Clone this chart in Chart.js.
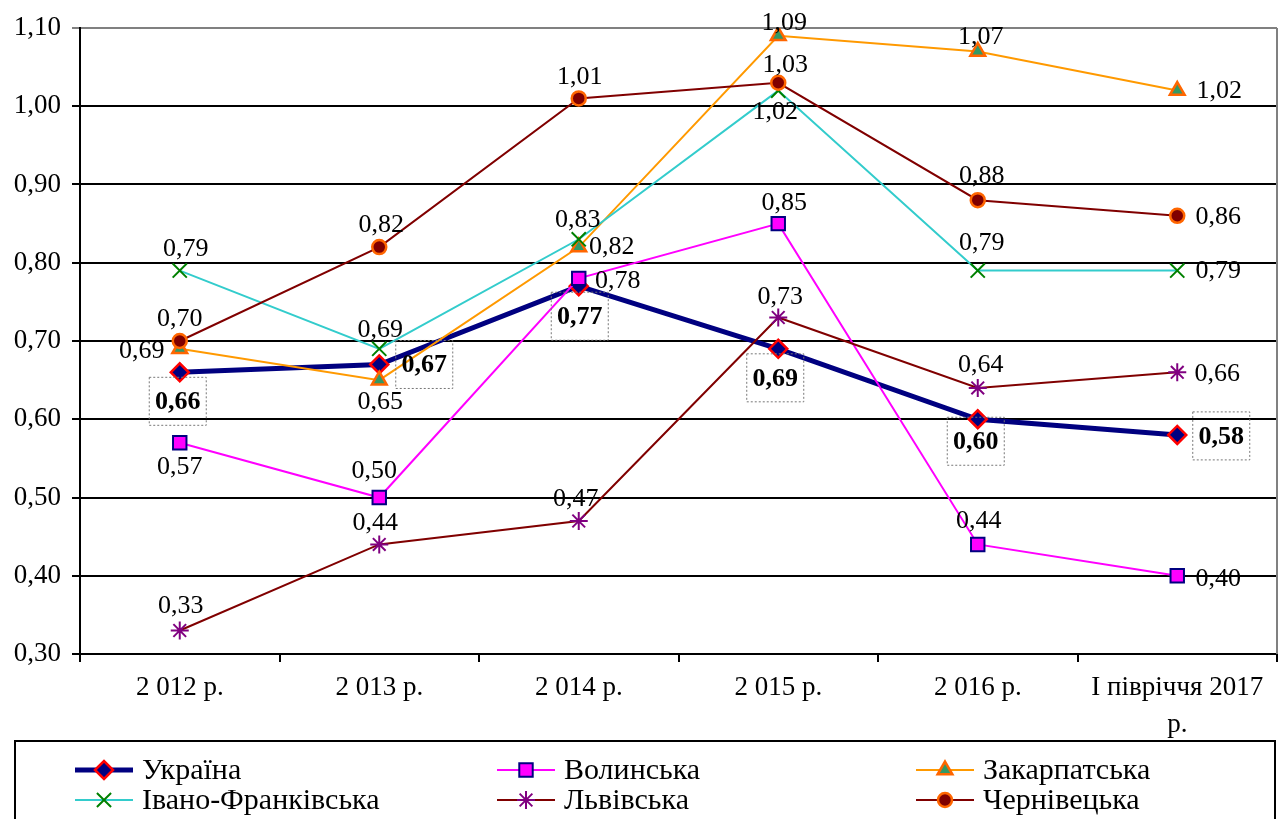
<!DOCTYPE html>
<html>
<head>
<meta charset="utf-8">
<script src="https://cdn.jsdelivr.net/npm/chart.js@4.4.0/dist/chart.umd.min.js"></script>
<style>
  body { margin: 0; background: #fff; }
  #wrap { width: 1279px; height: 819px; }
</style>
</head>
<body>
<div id="wrap"><canvas id="myChart" width="1279" height="819"></canvas></div>
<script>
// data
var years = ['2 012 р.', '2 013 р.', '2 014 р.', '2 015 р.', '2 016 р.', ['І півріччя 2017', 'р.']];
var seriesNames = ['Україна', 'Волинська', 'Закарпатська', 'Івано-Франківська', 'Львівська', 'Чернівецька'];
var ukraine   = [0.66, 0.67, 0.77, 0.69, 0.60, 0.58];
var volyn     = [0.57, 0.50, 0.78, 0.85, 0.44, 0.40];
var zakarpat  = [0.69, 0.65, 0.82, 1.09, 1.07, 1.02];
var ivanoFr   = [0.79, 0.69, 0.83, 1.02, 0.79, 0.79];
var lviv      = [0.33, 0.44, 0.47, 0.73, 0.64, 0.66];
var chernivtsi = [0.70, 0.82, 1.01, 1.03, 0.88, 0.86];
var yMin = 0.3, yMax = 1.1, yStep = 0.1;

// where each value label sits relative to its point (dx, dy)
var labelOffsets = [
  [[-2, 29], [45, 0], [1, 30], [-3, 29], [-2, 22], [44, 1]],
  [[0, 23], [-5, -27], [39, 2], [6, -21], [1, -24], [41, 2]],
  [[-38, 1], [1, 21], [33, -1], [6, -14], [3, -15], [42, 0]],
  [[6, -22], [1, -20], [-1, -20], [-3, 21], [4, -28], [41, 0]],
  [[1, -25], [-4, -22], [-3, -23], [2, -21], [3, -24], [40, 1]],
  [[0, -23], [2, -23], [1, -22], [7, -19], [4, -25], [41, 0]]
];

var FONT = '"Liberation Serif", "Times New Roman", serif';

function fmt(v) { return v.toFixed(2).replace('.', ','); }

var valueLabels = {
  id: 'valueLabels',
  beforeDatasetsDraw: function (chart) {
    // grey frame on the right side of the plot
    var a = chart.chartArea, c = chart.ctx;
    c.save();
    c.strokeStyle = '#808080';
    c.lineWidth = 2;
    c.beginPath();
    c.moveTo(a.right, a.top); c.lineTo(a.right, a.bottom);
    c.stroke();
    c.restore();
  },
  afterDatasetsDraw: function (chart) {
    var c = chart.ctx;
    c.save();
    c.textAlign = 'center';
    c.textBaseline = 'middle';
    chart.data.datasets.forEach(function (ds, i) {
      var meta = chart.getDatasetMeta(i);
      meta.data.forEach(function (pt, j) {
        var off = labelOffsets[i][j];
        var x = pt.x + off[0], y = pt.y + off[1];
        if (i === 0) {
          c.font = 'bold 26px ' + FONT;
          c.save();
          c.setLineDash([2, 2]);
          c.strokeStyle = '#777';
          c.lineWidth = 1;
          c.strokeRect(x - 28.5, y - 24, 57, 48);
          c.restore();
        } else {
          c.font = '26px ' + FONT;
        }
        c.fillStyle = '#000';
        c.fillText(fmt(ds.data[j]), x, y + 1);
      });
    });
    c.restore();
  }
};

var bottomLegend = {
  id: 'bottomLegend',
  afterDraw: function (chart) {
    var c = chart.ctx;
    c.save();
    c.strokeStyle = '#000';
    c.lineWidth = 2;
    c.strokeRect(15, 741, 1260, 90);
    var colX = [75, 497, 916], rowY = [770, 800];
    chart.data.datasets.forEach(function (ds, i) {
      var x = colX[i % 3], y = rowY[Math.floor(i / 3)];
      c.beginPath();
      c.strokeStyle = ds.borderColor;
      c.lineWidth = ds.borderWidth;
      c.moveTo(x, y); c.lineTo(x + 58, y);
      c.stroke();
      c.fillStyle = ds.pointBackgroundColor;
      c.strokeStyle = ds.pointBorderColor;
      c.lineWidth = ds.pointBorderWidth;
      Chart.helpers.drawPoint(c, { pointStyle: ds.pointStyle, radius: ds.pointRadius, borderWidth: ds.pointBorderWidth, rotation: 0 }, x + 29, y);
      c.fillStyle = '#000';
      c.font = '30px ' + FONT;
      c.textAlign = 'left';
      c.textBaseline = 'middle';
      c.fillText(ds.label, x + 67, y + 1);
    });
    c.restore();
  }
};

var ctx = document.getElementById('myChart');
var myChart = new Chart(ctx, {
  type: 'line',
  data: {
    labels: years,
    datasets: [
      {
        label: seriesNames[0], data: ukraine, order: 6,
        borderColor: '#000080', borderWidth: 5,
        pointStyle: 'rectRot', pointRadius: 9, pointBorderWidth: 2.5,
        pointBackgroundColor: '#000080', pointBorderColor: '#FF0000'
      },
      {
        label: seriesNames[1], data: volyn, order: 5,
        borderColor: '#FF00FF', borderWidth: 2,
        pointStyle: 'rect', pointRadius: 9.5, pointBorderWidth: 2,
        pointBackgroundColor: '#FF00FF', pointBorderColor: '#000080'
      },
      {
        label: seriesNames[2], data: zakarpat, order: 4,
        borderColor: '#FF9900', borderWidth: 2,
        pointStyle: 'triangle', pointRadius: 8.5, pointBorderWidth: 2.5,
        pointBackgroundColor: '#339966', pointBorderColor: '#FF6600'
      },
      {
        label: seriesNames[3], data: ivanoFr, order: 3,
        borderColor: '#33CCCC', borderWidth: 2,
        pointStyle: 'crossRot', pointRadius: 10, pointBorderWidth: 2,
        pointBackgroundColor: '#008000', pointBorderColor: '#008000'
      },
      {
        label: seriesNames[4], data: lviv, order: 2,
        borderColor: '#800000', borderWidth: 2,
        pointStyle: 'star', pointRadius: 9, pointBorderWidth: 2,
        pointBackgroundColor: '#800080', pointBorderColor: '#800080'
      },
      {
        label: seriesNames[5], data: chernivtsi, order: 1,
        borderColor: '#800000', borderWidth: 2,
        pointStyle: 'circle', pointRadius: 7, pointBorderWidth: 2.5,
        pointBackgroundColor: '#800000', pointBorderColor: '#FF6600'
      }
    ]
  },
  options: {
    responsive: false,
    animation: false,
    layout: { autoPadding: false, padding: { top: 28, right: 2, bottom: 0, left: 0 } },
    plugins: {
      legend: { display: false },
      tooltip: { enabled: false }
    },
    elements: { line: { tension: 0 } },
    scales: {
      x: {
        offset: true,
        grid: { display: true, drawOnChartArea: false, drawTicks: true, tickLength: 8, color: '#000', lineWidth: 2, offset: true },
        border: { display: true, color: '#000', width: 2 },
        ticks: { color: '#000', font: { family: FONT, size: 27, lineHeight: 1.37 }, maxRotation: 0, autoSkip: false, padding: 7 },
        afterFit: function (scale) {
          scale.height = 165;
          scale.paddingLeft = 0;
          scale.paddingRight = 0;
        }
      },
      y: {
        min: yMin, max: yMax,
        grid: {
          color: function (c) { return c.tick && c.tick.value > 1.05 ? '#808080' : '#000'; },
          lineWidth: 2, tickLength: 8, drawTicks: true
        },
        border: { display: true, color: '#000', width: 2 },
        ticks: {
          stepSize: yStep, color: '#000', padding: 11,
          font: { family: FONT, size: 27 },
          callback: function (v) { return fmt(v); }
        },
        afterFit: function (scale) { scale.width = 80; }
      }
    }
  },
  plugins: [valueLabels, bottomLegend]
});
</script>
</body>
</html>
